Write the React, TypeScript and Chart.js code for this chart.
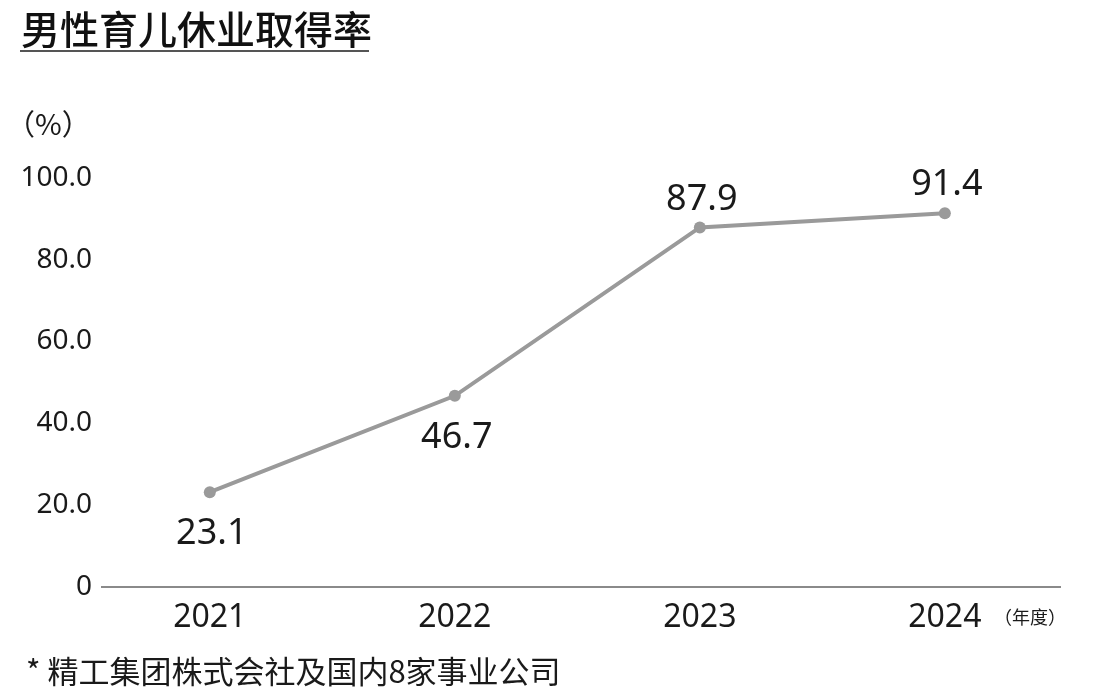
import { useEffect, useRef } from 'react'
import { Chart, registerables } from 'chart.js'

Chart.register(...registerables)

// 男性育儿休业取得率 line chart

const years = [2021, 2022, 2023, 2024]
const rates = [23.1, 46.7, 87.9, 91.4]
const labelSides = ['below', 'below', 'above', 'above']
const yTicks = [0, 20, 40, 60, 80, 100]

const NUM_FONT = '"Noto Sans", "Open Sans", sans-serif'
const CJK_FONT = '"Noto Sans CJK SC", "Noto Sans CJK JP", sans-serif'

const pointLabels = {
  id: 'pointLabels',
  afterDatasetsDraw(chart: Chart) {
    const ctx = chart.ctx
    const meta = chart.getDatasetMeta(0)
    ctx.save()
    ctx.font = `36px ${NUM_FONT}`
    ctx.fillStyle = '#1a1a1a'
    ctx.textAlign = 'center'
    ctx.textBaseline = 'middle'
    meta.data.forEach((pt, i) => {
      const dy = labelSides[i] === 'below' ? 42 : -28
      ctx.fillText(rates[i].toFixed(1), pt.x + 2, pt.y + dy)
    })
    ctx.restore()
  },
}

export default function App() {
  const canvasRef = useRef<HTMLCanvasElement>(null)
  const chartRef = useRef<Chart | null>(null)

  useEffect(() => {
    if (!canvasRef.current) return
    if (chartRef.current) chartRef.current.destroy()

    chartRef.current = new Chart(canvasRef.current, {
      type: 'line',
      data: {
        datasets: [{
          data: years.map((y, i) => ({ x: y, y: rates[i] })),
          borderColor: '#9a9a9a',
          borderWidth: 4,
          pointBackgroundColor: '#9a9a9a',
          pointBorderColor: '#9a9a9a',
          pointRadius: 6,
          pointBorderWidth: 0,
          tension: 0,
        }],
      },
      options: {
        responsive: false,
        maintainAspectRatio: false,
        animation: false,
        layout: { padding: { top: 178, left: 20, right: 60, bottom: 51 } },
        plugins: {
          legend: { display: false },
          tooltip: { enabled: false },
        },
        scales: {
          x: {
            type: 'linear',
            min: 2020.56,
            max: 2024.47,
            afterBuildTicks: scale => { scale.ticks = years.map(v => ({ value: v })) },
            grid: { display: false, drawTicks: false },
            border: { display: true, color: '#8a8a8a', width: 2 },
            ticks: {
              color: '#1a1a1a',
              font: { family: NUM_FONT, size: 32 },
              padding: 12,
              callback: v => String(v),
            },
          },
          y: {
            min: 0,
            max: 100,
            afterBuildTicks: scale => { scale.ticks = yTicks.map(v => ({ value: v })) },
            afterFit: scale => { scale.width = 82 },
            grid: { display: false, drawTicks: false },
            border: { display: false },
            ticks: {
              color: '#1a1a1a',
              font: { family: NUM_FONT, size: 28 },
              padding: 10,
              callback: v => (Number(v) === 0 ? '0' : Number(v).toFixed(1)),
            },
          },
        },
      },
      plugins: [pointLabels],
    })
    return () => { chartRef.current?.destroy() }
  }, [])

  return (
    <div style={{ position: 'relative', width: 1120, height: 700, margin: -8, background: '#fff', overflow: 'hidden' }}>
      <canvas ref={canvasRef} width={1120} height={700} style={{ position: 'absolute', left: 0, top: 0 }} />
      <div
        style={{
          position: 'absolute',
          left: 20,
          top: 4,
          width: 348,
          fontFamily: CJK_FONT,
          fontSize: 39,
          fontWeight: 500,
          color: '#111',
          lineHeight: '46px',
          paddingLeft: 1,
          borderBottom: '2px solid #555',
          whiteSpace: 'nowrap',
        }}
      >
        男性育儿休业取得率
      </div>
      <div
        style={{
          position: 'absolute',
          left: 6,
          top: 101,
          fontFamily: CJK_FONT,
          fontSize: 29,
          color: '#1a1a1a',
          whiteSpace: 'nowrap',
        }}
      >
        （%）
      </div>
      <div
        style={{
          position: 'absolute',
          left: 994,
          top: 603,
          fontFamily: CJK_FONT,
          fontSize: 18,
          color: '#1a1a1a',
          whiteSpace: 'nowrap',
        }}
      >
        （年度）
      </div>
      <div
        style={{
          position: 'absolute',
          left: 26,
          top: 647,
          fontFamily: CJK_FONT,
          fontSize: 31,
          color: '#1a1a1a',
          whiteSpace: 'nowrap',
        }}
      >
        * 精工集团株式会社及国内8家事业公司
      </div>
    </div>
  )
}
